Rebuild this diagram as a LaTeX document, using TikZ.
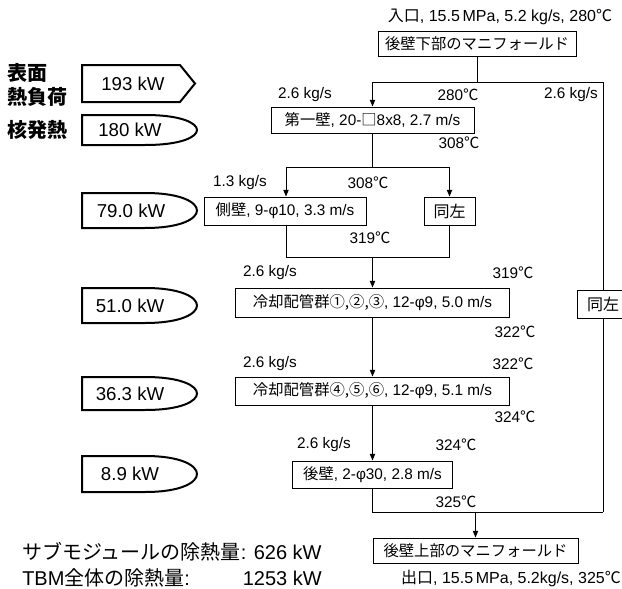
\documentclass[tikz,border=0pt]{standalone}
\usepackage{fontspec}
\setmainfont{Liberation Sans}
\newfontfamily\jpfont{Noto Sans CJK JP}
\usetikzlibrary{arrows.meta}
\newcommand{\J}[1]{{\jpfont #1}}
\newcommand{\dc}{\J{℃}}
\newcommand{\hshape}[2]{%
  \draw[heat] (82,#1-#2) -- (145,#1-#2) .. controls (182,#1-#2) and (197,#1-0.45*#2) .. (197,#1)
     .. controls (197,#1+0.45*#2) and (182,#1+#2) .. (145,#1+#2) -- (82,#1+#2) -- cycle;}
\begin{document}
\begin{tikzpicture}[x=0.75pt,y=-0.75pt,
  wh/.style 2 args={minimum width=#1*0.75pt,minimum height=#2*0.75pt},
  fbox/.style={draw,line width=0.75pt,inner sep=0pt,font=\fontsize{11.5}{13}\selectfont},
  lbl/.style={inner sep=0pt,font=\fontsize{11.5}{13}\selectfont},
  big/.style={inner sep=0pt,font=\fontsize{12}{14}\selectfont},
  conn/.style={line width=0.75pt},
  arr/.style={conn,-{Triangle[length=5pt,width=4pt]}},
  heat/.style={draw,line width=1.5pt},
  heatlbl/.style={inner sep=0pt,font=\fontsize{14}{16}\selectfont},
  sidelbl/.style={inner sep=0pt,anchor=west,font=\jpfont\bfseries\fontsize{15}{18}\selectfont},
  note/.style={inner sep=0pt,font=\fontsize{15}{18}\selectfont}
]
\useasboundingbox (0,0) rectangle (622,589);

% ---- main flow boxes
\node[big] (inlet) at (500,17) {\J{入口}, 15.5\,MPa, 5.2 kg/s, 280\dc};
\node[fbox,wh={198}{25}] (mtop) at (477,43.5) {\J{後壁下部のマニフォールド}};
\node[fbox,wh={203}{26}] (fw) at (372.5,120) {\J{第一壁}, 20-\J{□}8x8, 2.7 m/s};
\node[fbox,wh={162}{28}] (sw) at (285,211) {\J{側壁}, 9-φ10, 3.3 m/s};
\node[fbox,wh={51}{28},font=\jpfont\fontsize{12}{14}\selectfont] (same) at (449.5,211) {同左};
\node[fbox,wh={274}{29}] (cp1) at (372.5,302.5) {\J{冷却配管群①,②,③}, 12-φ9, 5.0 m/s};
\node[fbox,wh={274}{28}] (cp2) at (372.5,391) {\J{冷却配管群④,⑤,⑥}, 12-φ9, 5.1 m/s};
\node[fbox,wh={160}{27}] (rw) at (372.5,474.5) {\J{後壁}, 2-φ30, 2.8 m/s};
\node[fbox,wh={52}{28},font=\jpfont\fontsize{12}{14}\selectfont] (same2) at (603,304) {同左};
\node[fbox,wh={205}{25}] (mbot) at (475.5,550.5) {\J{後壁上部のマニフォールド}};
\node[big] (outlet) at (511,578) {\J{出口}, 15.5\,MPa, 5.2kg/s, 325\dc};

% ---- junction points
\coordinate (sL) at (372.5,82);
\coordinate (sR) at (603,82);
\coordinate (bL) at (286,167);
\coordinate (bR) at (449.5,167);
\coordinate (mL) at (286,257);
\coordinate (mR) at (449.5,257);
\coordinate (mM) at (372.5,257);
\coordinate (jL) at (372.5,512);
\coordinate (jR) at (603,512);
\coordinate (jM) at (475.5,512);

% ---- connectors
\draw[conn] (mtop.south) -- (mtop.south |- sL);
\draw[conn] (sL) -- (sR);
\draw[arr] (sL) -- (fw.north);
\draw[conn] (fw.south) -- (fw.south |- bL);
\draw[conn] (bL) -- (bR);
\draw[arr] (bL) -- (bL |- sw.north);
\draw[arr] (bR) -- (same.north);
\draw[conn] (bL |- sw.south) -- (mL) -- (mR) -- (same.south);
\draw[arr] (mM) -- (cp1.north);
\draw[arr] (cp1.south) -- (cp2.north);
\draw[arr] (cp2.south) -- (rw.north);
\draw[conn] (rw.south) -- (jL) -- (jR);
\draw[conn] (sR) -- (same2.north);
\draw[conn] (same2.south) -- (jR);
\draw[arr] (jM) -- (mbot.north);

% ---- flow labels
\node[lbl] (l1) at (305,95) {2.6 kg/s};
\node[lbl] (l2) at (458,95) {280\dc};
\node[lbl] (l3) at (571,95) {2.6 kg/s};
\node[lbl] (l4) at (459,143) {308\dc};
\node[lbl] (l5) at (240,183) {1.3 kg/s};
\node[lbl] (l6) at (368,183) {308\dc};
\node[lbl] (l7) at (370,238) {319\dc};
\node[lbl] (l8) at (270,273) {2.6 kg/s};
\node[lbl] (l9) at (513,273) {319\dc};
\node[lbl] (l10) at (515,332) {322\dc};
\node[lbl] (l11) at (270,364) {2.6 kg/s};
\node[lbl] (l12) at (513,364) {322\dc};
\node[lbl] (l13) at (515,417) {324\dc};
\node[lbl] (l14) at (324,445) {2.6 kg/s};
\node[lbl] (l15) at (456,445) {324\dc};
\node[lbl] (l16) at (456,502) {325\dc};

% ---- heat inputs
\node[sidelbl] (s1) at (7,73) {表面};
\node[sidelbl] (s2) at (7,97) {熱負荷};
\node[sidelbl] (s3) at (7,130) {核発熱};
\draw[heat] (82,65) -- (180,65) -- (195,83.5) -- (180,102) -- (82,102) -- cycle;
\node[heatlbl] (h1) at (133,83.5) {193 kW};
\hshape{130}{15}
\node[heatlbl] (h2) at (130,130) {180 kW};
\hshape{210.5}{17.5}
\node[heatlbl] (h3) at (131,210.5) {79.0 kW};
\hshape{305.5}{17.5}
\node[heatlbl] (h4) at (130,305.5) {51.0 kW};
\hshape{393.5}{16.5}
\node[heatlbl] (h5) at (130,393.5) {36.3 kW};
\hshape{474}{18}
\node[heatlbl] (h6) at (130,474) {8.9 kW};

% ---- totals
\node[note,anchor=west] (t1) at (22,552) {\J{サブモジュールの除熱量}: 626 kW};
\node[note,anchor=west] (t2) at (22,578) {TBM\J{全体の除熱量}:};
\node[note,anchor=east] (t3) at (322,578) {1253 kW};
\end{tikzpicture}
\end{document}
